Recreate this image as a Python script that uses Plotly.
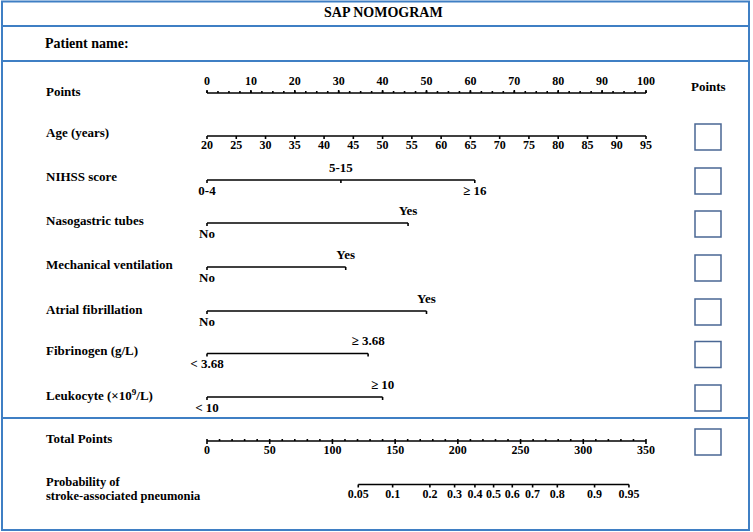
import plotly.graph_objects as go

# ---------------- data ----------------
points_ticks = [0, 10, 20, 30, 40, 50, 60, 70, 80, 90, 100]
points_minor_step = 2.5

age_ticks = [20, 25, 30, 35, 40, 45, 50, 55, 60, 65, 70, 75, 80, 85, 90, 95]
age_points_range = [0, 100]          # 20 years -> 0 points, 95 years -> 100 points

nihss_labels = ["0-4", "5-15", "≥ 16"]
nihss_points = [0, 30.5, 61]
nihss_label_side = ["below", "above", "below"]

naso_labels = ["No", "Yes"];        naso_points = [0, 45.8]
mv_labels = ["No", "Yes"];          mv_points = [0, 31.6]
af_labels = ["No", "Yes"];          af_points = [0, 50.0]
fib_labels = ["< 3.68", "≥ 3.68"];  fib_points = [0, 36.7]
leu_labels = ["< 10", "≥ 10"];      leu_points = [0, 40.0]

total_ticks = [0, 50, 100, 150, 200, 250, 300, 350]
total_minor_step = 10
total_max = 350

prob_ticks = [0.05, 0.1, 0.2, 0.3, 0.4, 0.5, 0.6, 0.7, 0.8, 0.9, 0.95]
prob_total_points = [120.6, 148.0, 177.7, 197.4, 213.6, 228.5, 243.4, 259.6, 279.3, 309.0, 336.4]

row_names = ["Points", "Age (years)", "NIHSS score", "Nasogastric tubes",
             "Mechanical ventilation", "Atrial fibrillation", "Fibrinogen (g/L)",
             "Leukocyte (×10<sup>9</sup>/L)", "Total Points"]

# ---------------- layout constants ----------------
W, H = 753, 532
PX0, PX100 = 207, 646
span = PX100 - PX0
xr = [-PX0 / span * 100, (W - PX0) / span * 100]

FONT = "Liberation Serif, Times New Roman, serif"
BORDER = "#3f7fc4"
BOXC = "#4a6794"
LW = 1.6
NUM_SIZE = 12
CAT_SIZE = 13

y_points, y_age, y_nihss, y_naso, y_mv, y_af, y_fib, y_leu, y_total, y_prob = \
    93, 136, 180, 223, 267, 311, 353.5, 397, 441, 484.5

fig = go.Figure()


def seg_trace(xs_pairs):
    xs, ys = [], []
    for (x0, y0, x1, y1) in xs_pairs:
        xs += [x0, x1, None]
        ys += [y0, y1, None]
    fig.add_trace(go.Scatter(x=xs, y=ys, mode="lines", line=dict(color="black", width=LW),
                             hoverinfo="skip", showlegend=False))


def text_trace(xs, ys, texts, size=NUM_SIZE):
    fig.add_trace(go.Scatter(x=xs, y=ys, text=texts, mode="text", textposition="middle center",
                             textfont=dict(family=FONT, size=size, color="black", weight="bold"),
                             hoverinfo="skip", showlegend=False))


def numeric_axis(y, values, pts, labels, side, minor_pts=None, major_len=3, minor_len=2,
                 tick_dir=1, minor_dir=None):
    segs = [(min(pts), y, max(pts), y)]
    for p in pts:
        segs.append((p, y, p, y + tick_dir * major_len))
    if minor_pts:
        md = minor_dir if minor_dir is not None else tick_dir
        for p in minor_pts:
            segs.append((p, y, p, y + md * minor_len))
    seg_trace(segs)
    off = -11.5 if side == "above" else 10
    text_trace(pts, [y + off] * len(pts), labels)


# Points axis
numeric_axis(y_points, points_ticks, points_ticks, [str(v) for v in points_ticks], "above",
             minor_pts=[i * points_minor_step for i in range(int(100 / points_minor_step) + 1)],
             tick_dir=-1)

# Age axis
a0, a1 = age_ticks[0], age_ticks[-1]
age_pts = [age_points_range[0] + (a - a0) / (a1 - a0) * (age_points_range[1] - age_points_range[0])
           for a in age_ticks]
numeric_axis(y_age, age_ticks, age_pts, [str(v) for v in age_ticks], "below")


def cat_axis(y, labels, pts, sides):
    segs = [(min(pts), y, max(pts), y)]
    for p in pts:
        segs.append((p, y, p, y + 3))
    seg_trace(segs)
    for lab, p, s in zip(labels, pts, sides):
        text_trace([p], [y + (-11.5 if s == "above" else 11.5)], [lab], size=CAT_SIZE)


cat_axis(y_nihss, nihss_labels, nihss_points, nihss_label_side)
for y, labs, pts in [(y_naso, naso_labels, naso_points), (y_mv, mv_labels, mv_points),
                     (y_af, af_labels, af_points), (y_fib, fib_labels, fib_points),
                     (y_leu, leu_labels, leu_points)]:
    cat_axis(y, labs, pts, ["below", "above"])

# Total points axis
tscale = 100 / total_max
numeric_axis(y_total, total_ticks, [t * tscale for t in total_ticks], [str(v) for v in total_ticks],
             "below", minor_pts=[i * total_minor_step * tscale for i in range(int(total_max / total_minor_step) + 1)],
             tick_dir=1, minor_dir=-1)

# Probability axis
numeric_axis(y_prob, prob_ticks, [t * tscale for t in prob_total_points],
             [("%g" % v) for v in prob_ticks], "below")

# ---------------- frame, labels, boxes ----------------
def px(x):
    return x / W

shapes = [
    dict(type="rect", xref="paper", yref="y", x0=px(2), x1=px(749), y0=1.5, y1=530,
         line=dict(color=BORDER, width=2)),
]
for yy in [26, 61, 418]:
    shapes.append(dict(type="line", xref="paper", yref="y", x0=px(2), x1=px(749), y0=yy, y1=yy,
                       line=dict(color=BORDER, width=2)))
for yc in [y_age, y_nihss, y_naso, y_mv, y_af, y_fib, y_leu, y_total]:
    shapes.append(dict(type="rect", xref="paper", yref="y", x0=px(695), x1=px(721),
                       y0=yc + 1 - 13, y1=yc + 1 + 13, line=dict(color=BOXC, width=1.5)))

annotations = [
    dict(text="SAP NOMOGRAM", x=px(383), y=12, xref="paper", yref="y", showarrow=False,
         xanchor="center", font=dict(family=FONT, size=14, weight="bold", color="black")),
    dict(text="Patient name:", x=px(43), y=43.5, xref="paper", yref="y", showarrow=False,
         xanchor="left", font=dict(family=FONT, size=14, weight="bold", color="black")),
    dict(text="Points", x=px(708), y=86, xref="paper", yref="y", showarrow=False,
         xanchor="center", font=dict(family=FONT, size=13, weight="bold", color="black")),
]
label_y = [91, 132, 176, 220, 264, 309, 350, 395, 438]
for name, yy in zip(row_names, label_y):
    annotations.append(dict(text=name, x=px(44), y=yy, xref="paper", yref="y", showarrow=False,
                            xanchor="left", font=dict(family=FONT, size=13, weight="bold", color="black")))
annotations.append(dict(text="Probability of", x=px(44), y=482, xref="paper", yref="y", showarrow=False,
                        xanchor="left", font=dict(family=FONT, size=12.5, weight="bold", color="black")))
annotations.append(dict(text="stroke-associated pneumonia", x=px(44), y=495.5, xref="paper", yref="y",
                        showarrow=False, xanchor="left",
                        font=dict(family=FONT, size=12.5, weight="bold", color="black")))

fig.update_layout(
    width=W, height=H, margin=dict(l=0, r=0, t=0, b=0),
    paper_bgcolor="white", plot_bgcolor="white",
    xaxis=dict(range=xr, visible=False, fixedrange=True),
    yaxis=dict(range=[H, 0], visible=False, fixedrange=True),
    shapes=shapes, annotations=annotations, showlegend=False,
)

fig.write_html("out.html", config={"displayModeBar": False},
               post_script="document.body.style.margin='0';document.body.style.overflow='hidden';")
